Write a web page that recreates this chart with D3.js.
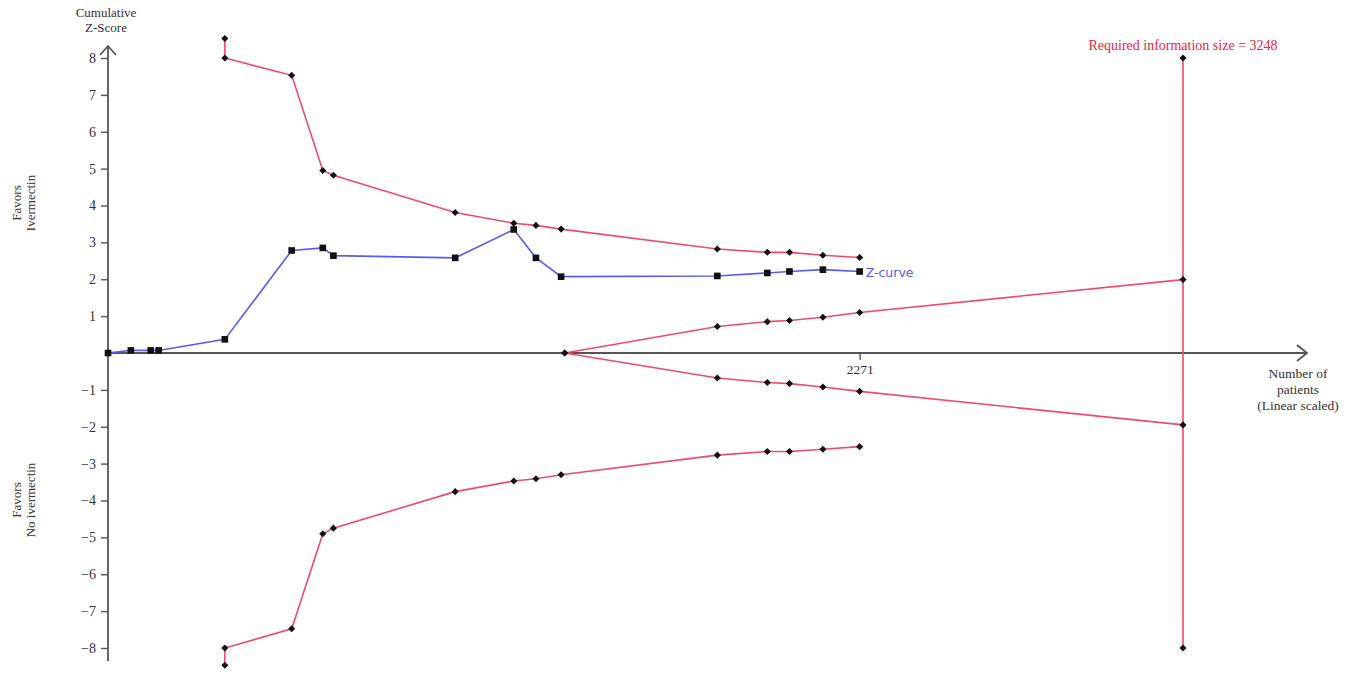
<!DOCTYPE html>
<html>
<head>
<meta charset="utf-8">
<script src="https://cdn.jsdelivr.net/npm/d3@7/dist/d3.min.js"></script>
<style>
  html, body { margin: 0; padding: 0; background: #fff; }
  svg text { font-family: "Liberation Serif", "DejaVu Serif", serif; }
</style>
</head>
<body>
<div id="chart"></div>
<script>
// chart data
const patients = [0, 69, 129, 153, 353, 555, 649, 681, 1049, 1226, 1293, 1369, 1841, 1992, 2059, 2160, 2271];
const zCurve = [0, 0.07, 0.07, 0.07, 0.37, 2.78, 2.85, 2.64, 2.58, 3.35, 2.58, 2.07, 2.09, 2.17, 2.21, 2.26, 2.21];

const boundPatients = [353, 353, 555, 649, 681, 1049, 1226, 1293, 1369, 1841, 1992, 2059, 2160, 2271];
const upperBound = [8.53, 8.0, 7.53, 4.95, 4.82, 3.81, 3.52, 3.46, 3.36, 2.82, 2.73, 2.73, 2.65, 2.59];
const lowerBound = [-8.47, -8.0, -7.48, -4.9, -4.75, -3.76, -3.47, -3.41, -3.30, -2.77, -2.67, -2.67, -2.61, -2.54];

const futPatients = [1380, 1841, 1992, 2059, 2160, 2271, 3248];
const futUpper = [0, 0.72, 0.85, 0.88, 0.97, 1.10, 1.99];
const futLower = [0, -0.68, -0.80, -0.83, -0.92, -1.04, -1.95];

const ris = 3248;
const risRange = [-8, 8];
const yTicks = [-8, -7, -6, -5, -4, -3, -2, -1, 1, 2, 3, 4, 5, 6, 7, 8];
const xTicks = [2271];

// layout
const width = 1353, height = 675;
const redCol = '#ef4a6c', blueCol = '#5a5af0', axisCol = '#555';

const svg = d3.select('#chart').append('svg')
    .attr('width', width)
    .attr('height', height);

const x = d3.scaleLinear().domain([0, ris]).range([108, 1183]);
const y = d3.scaleLinear().domain([-8, 8]).range([648, 58]);

const line = d3.line().x(d => x(d[0])).y(d => y(d[1]));
const zip = (a, b) => a.map((v, i) => [v, b[i]]);

// axes
const yAxis = d3.axisLeft(y).tickValues(yTicks).tickSize(7).tickPadding(5).tickFormat(d3.format('d'));
const gy = svg.append('g').attr('transform', `translate(${x(0)},0)`).call(yAxis);
gy.select('.domain').remove();
gy.selectAll('line').attr('stroke', axisCol).attr('stroke-width', 1.4);
gy.selectAll('text').attr('fill', '#333').style('font-size', '14px')
    .style('font-family', '"Liberation Serif", serif');

const xAxis = d3.axisBottom(x).tickValues(xTicks).tickSize(7).tickPadding(4).tickFormat(d3.format('d'));
const gx = svg.append('g').attr('transform', `translate(0,${y(0)})`).call(xAxis);
gx.select('.domain').remove();
gx.selectAll('line').attr('stroke', axisCol).attr('stroke-width', 1.4);
gx.selectAll('text').attr('fill', '#333').style('font-size', '13.5px')
    .style('font-family', '"Liberation Serif", serif');

// axis lines with arrows
const y0 = y(0);
const axisG = svg.append('g').attr('stroke', axisCol).attr('stroke-width', 1.8).attr('fill', 'none');
axisG.append('line').attr('x1', x(0)).attr('x2', 1307).attr('y1', y0).attr('y2', y0);
axisG.append('path').attr('d', `M1297,${y0 - 8}L1307,${y0}L1297,${y0 + 8}`);
axisG.append('line').attr('x1', x(0)).attr('x2', x(0)).attr('y1', 661).attr('y2', 46);
axisG.append('path').attr('d', `M${x(0) - 8},${55}L${x(0)},${46}L${x(0) + 8},${55}`);

// boundary lines
const lines = svg.append('g').attr('fill', 'none').attr('stroke-width', 1.6);
lines.append('path').attr('d', line(zip(boundPatients, upperBound))).attr('stroke', redCol);
lines.append('path').attr('d', line(zip(boundPatients, lowerBound))).attr('stroke', redCol);
lines.append('path').attr('d', line(zip(futPatients, futUpper))).attr('stroke', redCol);
lines.append('path').attr('d', line(zip(futPatients, futLower))).attr('stroke', redCol);
lines.append('path').attr('d', line(risRange.map(v => [ris, v]))).attr('stroke', redCol);
lines.append('path').attr('d', line(zip(patients, zCurve))).attr('stroke', blueCol);

// markers
const diamond = d3.symbol().type(d3.symbolDiamond2).size(32);
const square = d3.symbol().type(d3.symbolSquare).size(44);
const boundPts = [].concat(
    zip(boundPatients, upperBound),
    zip(boundPatients, lowerBound),
    zip(futPatients, futUpper),
    zip(futPatients, futLower),
    risRange.map(v => [ris, v])
);
svg.append('g').selectAll('path').data(boundPts).join('path')
    .attr('d', diamond)
    .attr('transform', d => `translate(${x(d[0])},${y(d[1])})`)
    .attr('fill', '#111');
svg.append('g').selectAll('path').data(zip(patients, zCurve)).join('path')
    .attr('d', square)
    .attr('transform', d => `translate(${x(d[0])},${y(d[1])})`)
    .attr('fill', '#111');

// labels
svg.append('text').attr('x', x(patients[patients.length - 1]) + 6).attr('y', y(zCurve[zCurve.length - 1]) + 5)
    .attr('fill', blueCol).style('font-family', '"DejaVu Sans", sans-serif').style('font-size', '12.5px')
    .text('Z-curve');

svg.append('text').attr('x', x(ris)).attr('y', 50).attr('text-anchor', 'middle')
    .attr('fill', '#ee2244').style('font-size', '14px')
    .text('Required information size = ' + ris);

const yTitle = svg.append('text').attr('text-anchor', 'middle').attr('fill', '#333').style('font-size', '13px');
yTitle.append('tspan').attr('x', 106).attr('y', 17).text('Cumulative');
yTitle.append('tspan').attr('x', 106).attr('y', 32).text('Z-Score');

const xTitle = svg.append('text').attr('text-anchor', 'middle').attr('fill', '#333').style('font-size', '13.5px');
['Number of', 'patients', '(Linear scaled)'].forEach((t, i) => {
    xTitle.append('tspan').attr('x', 1298).attr('y', 378 + i * 16).text(t);
});

const sideLabel = (cy, lines2) => {
    const t = svg.append('text').attr('text-anchor', 'middle').attr('fill', '#333').style('font-size', '13px')
        .attr('transform', `translate(0,${cy}) rotate(-90)`);
    lines2.forEach((s, i) => t.append('tspan').attr('x', 0).attr('y', 21 + i * 14).text(s));
};
sideLabel(203, ['Favors', 'Ivermectin']);
sideLabel(500, ['Favors', 'No ivermectin']);
</script>
</body>
</html>
